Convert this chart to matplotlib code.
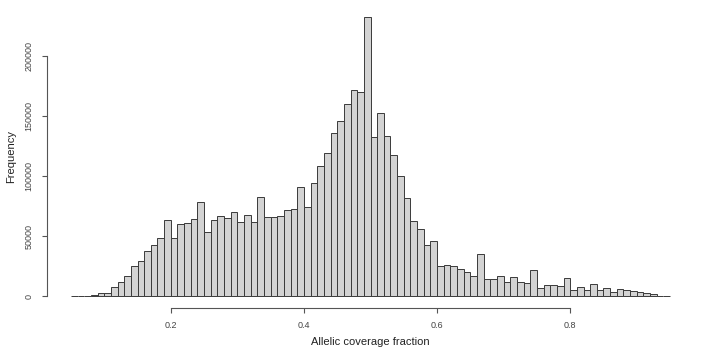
import numpy as np
import matplotlib
matplotlib.use("Agg")
import matplotlib.pyplot as plt

plt.rcParams['font.family'] = ['Liberation Sans', 'DejaVu Sans']

bin_start = 0.05
bin_width = 0.01
counts = [50, 150, 400, 900, 3000, 3000, 8000, 11700, 16700, 25000,
          29400, 38000, 42700, 48300, 63300, 48300, 60000, 60800, 64400, 78300,
          53900, 63900, 67200, 65200, 70500, 61700, 67500, 61700, 83000, 66100,
          66100, 66700, 71600, 72500, 91000, 74100, 94400, 108300, 119400, 135800,
          146100, 160500, 172200, 170000, 232700, 132500, 152500, 133900, 117500, 100500,
          81700, 63200, 56300, 42600, 45900, 25000, 26500, 25500, 22500, 20000,
          17200, 35200, 14700, 14700, 16900, 11700, 15800, 12200, 10800, 22200,
          6900, 9400, 9700, 8300, 15200, 5200, 7700, 5300, 9900, 5300,
          6900, 4000, 6100, 5300, 4600, 3200, 2500, 1800, 500, 100]
x_ticks = [0.2, 0.4, 0.6, 0.8]
y_ticks = [0, 50000, 100000, 150000, 200000]
x_label = "Allelic coverage fraction"
y_label = "Frequency"

edges = bin_start + bin_width * np.arange(len(counts) + 1)

fig = plt.figure(figsize=(7.19, 3.6), dpi=100)
ax = fig.add_axes([47/719, (360-307.5)/360, 647/719, 301.5/360])

ax.bar(edges[:-1], counts, width=bin_width, align='edge',
       color='#d3d3d3', edgecolor='#3a3a3a', linewidth=0.7)

xr = edges[-1] - edges[0]
ax.set_xlim(edges[0] - 0.04 * xr, edges[-1] + 0.04 * xr)
ymax = max(counts)
ax.set_ylim(-0.04 * ymax, ymax * 1.04)

for s in ['top', 'right']:
    ax.spines[s].set_visible(False)
ax.spines['left'].set_bounds(y_ticks[0], y_ticks[-1])
ax.spines['bottom'].set_bounds(x_ticks[0], x_ticks[-1])
for s in ['left', 'bottom']:
    ax.spines[s].set_color('#555555')
    ax.spines[s].set_linewidth(0.8)

ax.set_xticks(x_ticks)
ax.set_xticklabels([f"{t:.1f}" for t in x_ticks])
ax.set_yticks(y_ticks)
ax.set_yticklabels([str(t) for t in y_ticks], rotation=90, va='center')
ax.tick_params(axis='both', direction='out', length=3.5, width=0.8,
               color='#555555', labelcolor='#444444', labelsize=6.5)
ax.tick_params(axis='x', pad=6)
ax.tick_params(axis='y', pad=6)

ax.set_xlabel(x_label, fontsize=8, color='#222222', labelpad=5)
ax.set_ylabel(y_label, fontsize=8, color='#222222', labelpad=6)

fig.savefig("out.png", dpi=100)
